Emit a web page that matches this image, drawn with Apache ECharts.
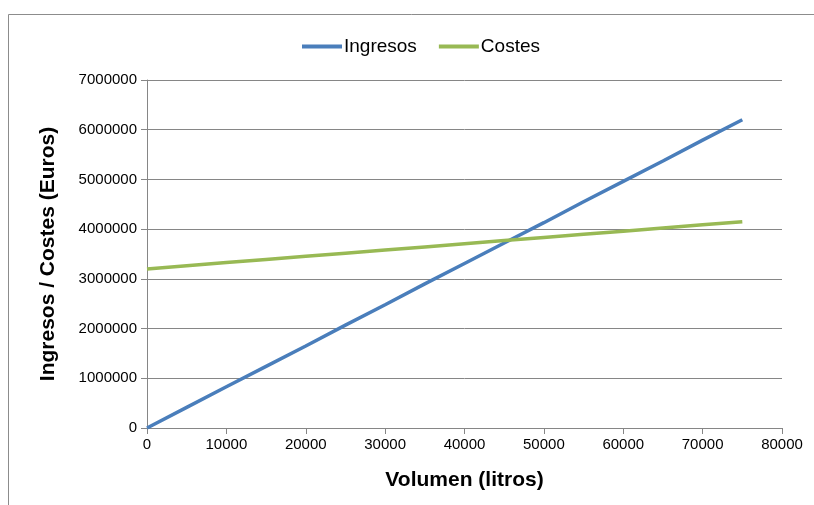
<!DOCTYPE html>
<html>
<head>
<meta charset="utf-8">
<script src="https://cdn.jsdelivr.net/npm/echarts@6/dist/echarts.min.js"></script>
<style>
  html, body { margin: 0; padding: 0; background: #ffffff; }
  #chart { width: 814px; height: 505px; }
</style>
</head>
<body>
<div id="chart"></div>
<script>
// Volume in litres
const volumen = [0, 5000, 10000, 15000, 20000, 25000, 30000, 35000, 40000, 45000, 50000, 55000, 60000, 65000, 70000, 75000];
// Revenue (euros)
const ingresos = [0, 415000, 830000, 1240000, 1650000, 2070000, 2480000, 2900000, 3310000, 3720000, 4130000, 4550000, 4960000, 5370000, 5790000, 6200000];
// Costs (euros)
const costes = [3200000, 3263000, 3327000, 3390000, 3453000, 3517000, 3580000, 3643000, 3707000, 3770000, 3833000, 3897000, 3960000, 4023000, 4087000, 4150000];

const xTicks = { min: 0, max: 80000, interval: 10000 };
const yTicks = { min: 0, max: 7000000, interval: 1000000 };

const font = 'Liberation Sans, Arial, sans-serif';
const plain = v => String(v);
const chart = echarts.init(document.getElementById('chart'));

chart.setOption({
  animation: false,
  backgroundColor: '#ffffff',
  graphic: [{
    type: 'rect',
    shape: { x: 8.5, y: 14.5, width: 820, height: 500 },
    style: { fill: 'none', stroke: '#8c8c8c', lineWidth: 1 },
    silent: true
  }],
  legend: {
    top: 32,
    left: 297,
    itemWidth: 40,
    itemHeight: 4,
    itemGap: 22,
    icon: 'rect',
    textStyle: { fontFamily: font, fontSize: 19, color: '#000', padding: [0, 0, 0, -3] },
    data: ['Ingresos', 'Costes']
  },
  grid: { left: 147, right: 32, top: 80, bottom: 77, containLabel: false },
  xAxis: {
    type: 'value',
    min: xTicks.min, max: xTicks.max, interval: xTicks.interval,
    name: 'Volumen (litros)',
    nameLocation: 'middle',
    nameGap: 42,
    nameTextStyle: { fontFamily: font, fontSize: 21, fontWeight: 'bold', color: '#000' },
    axisLine: { show: true, lineStyle: { color: '#868686', width: 1 } },
    axisTick: { show: true, length: 6, lineStyle: { color: '#868686' } },
    axisLabel: { fontFamily: font, fontSize: 15, color: '#000', margin: 9, formatter: plain },
    splitLine: { show: false }
  },
  yAxis: {
    type: 'value',
    min: yTicks.min, max: yTicks.max, interval: yTicks.interval,
    name: 'Ingresos / Costes (Euros)',
    nameLocation: 'middle',
    nameGap: 88,
    nameTextStyle: { fontFamily: font, fontSize: 21, fontWeight: 'bold', color: '#000' },
    axisLine: { show: true, lineStyle: { color: '#868686', width: 1 } },
    axisTick: { show: true, length: 6, lineStyle: { color: '#868686' } },
    axisLabel: { fontFamily: font, fontSize: 15, color: '#000', margin: 10, formatter: plain },
    splitLine: { show: true, lineStyle: { color: '#868686', width: 1 } }
  },
  series: [
    {
      name: 'Ingresos',
      type: 'line',
      data: volumen.map((v, i) => [v, ingresos[i]]),
      showSymbol: false,
      lineStyle: { color: '#4a7ebb', width: 3.5 },
      itemStyle: { color: '#4a7ebb' }
    },
    {
      name: 'Costes',
      type: 'line',
      data: volumen.map((v, i) => [v, costes[i]]),
      showSymbol: false,
      lineStyle: { color: '#98b954', width: 3.5 },
      itemStyle: { color: '#98b954' }
    }
  ]
});
</script>
</body>
</html>
